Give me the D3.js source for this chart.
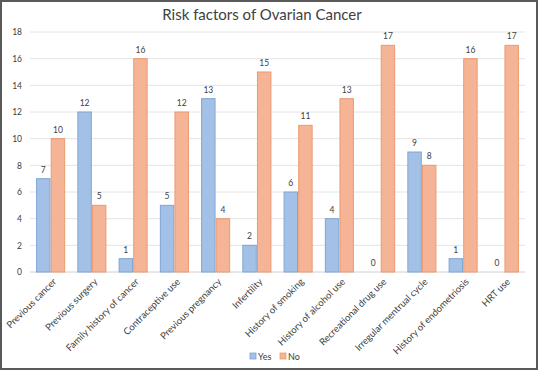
<!DOCTYPE html>
<html><head><meta charset="utf-8">
<script src="https://cdn.jsdelivr.net/npm/d3@7"></script>
<style>body{margin:0;background:#fff}svg{display:block}</style>
</head><body>
<svg id="c" width="538" height="370"></svg>
<script>
const categories = ["Previous cancer","Previous surgery","Family history of cancer","Contraceptive use","Previous pregnancy","Infertility","History of smoking","History of alcohol use","Recreational drug use","Irregular mentrual cycle","History of endometriosis","HRT use"];
const yesValues = [7,12,1,5,13,2,6,4,0,9,1,0];
const noValues = [10,5,16,12,4,15,11,13,17,8,16,17];
const seriesNames = ["Yes","No"];
const yTicks = [0,2,4,6,8,10,12,14,16,18];
const title = "Risk factors of Ovarian Cancer";

const svg = d3.select("#c");
const W = 538, H = 370;
const m = {l:30, r:13, t:32, b:98};
const font = "Lato, 'Open Sans', 'Liberation Sans', Arial, sans-serif";

svg.append("rect").attr("x",1).attr("y",1).attr("width",W-2).attr("height",H-2)
  .attr("fill","#fff").attr("stroke","#5a5a5a").attr("stroke-width",2);

const x = d3.scaleBand().domain(categories).range([m.l, W-m.r]).paddingInner(0.32).paddingOuter(0.16);
const xs = d3.scaleBand().domain(seriesNames).range([0, x.bandwidth()]).paddingInner(0.08);
const y = d3.scaleLinear().domain([0,18]).range([H-m.b, m.t]);

const g = svg.append("g");
g.selectAll("line.grid").data(yTicks).enter().append("line")
  .attr("x1", m.l).attr("x2", W-m.r)
  .attr("y1", d=>y(d)).attr("y2", d=>y(d))
  .attr("stroke", d=> d===0 ? "#d0d0d0" : "#e4e4e4").attr("stroke-width",1);

const yAxis = d3.axisLeft(y).tickValues(yTicks).tickSize(0).tickPadding(8);
const ya = svg.append("g").attr("transform",`translate(${m.l},0)`).call(yAxis);
ya.select(".domain").remove();
ya.selectAll("text").attr("font-family",font).attr("font-size",8.5).attr("fill","#404040");

const colors = {Yes:{fill:"#a3c1e6", stroke:"#7ea5d6"}, No:{fill:"#f5b495", stroke:"#ec9a70"}};
const data = categories.map((c,i)=>({c, Yes:yesValues[i], No:noValues[i]}));

const groups = g.selectAll("g.cat").data(data).enter().append("g")
  .attr("transform", d=>`translate(${x(d.c)},0)`);
seriesNames.forEach(s=>{
  groups.append("rect")
    .attr("x", xs(s)).attr("width", xs.bandwidth())
    .attr("y", d=>y(d[s])).attr("height", d=>y(0)-y(d[s]))
    .attr("fill", colors[s].fill).attr("stroke", colors[s].stroke).attr("stroke-width", d=>d[s]>0?1:0);
  groups.append("text")
    .attr("x", xs(s)+xs.bandwidth()/2).attr("y", d=>y(d[s])-6)
    .attr("text-anchor","middle").attr("font-family",font).attr("font-size",8.5).attr("fill","#404040")
    .text(d=>d[s]);
});

const xAxis = d3.axisBottom(x).tickSize(0).tickPadding(0);
const xa = svg.append("g").attr("transform",`translate(0,${y(0)+8})`).call(xAxis);
xa.select(".domain").remove();
xa.selectAll("text").attr("font-family",font).attr("font-size",9.5).attr("fill","#404040")
  .attr("text-anchor","end").attr("dy","0.35em")
  .attr("transform","translate(4,0) rotate(-45)");

svg.append("text").attr("x", 262).attr("y", 20).attr("text-anchor","middle")
  .attr("font-family",font).attr("font-size",15).attr("fill","#404040").text(title);

const leg = svg.append("g").attr("transform","translate(250,353)");
seriesNames.forEach((s,i)=>{
  const lg = leg.append("g").attr("transform",`translate(${i*30},0)`);
  lg.append("rect").attr("width",6).attr("height",6).attr("fill",colors[s].fill).attr("stroke",colors[s].stroke).attr("stroke-width",0.8);
  lg.append("text").attr("x",8).attr("y",6.5).attr("font-family",font).attr("font-size",9).attr("fill","#404040").text(s);
});
</script>
</body></html>
